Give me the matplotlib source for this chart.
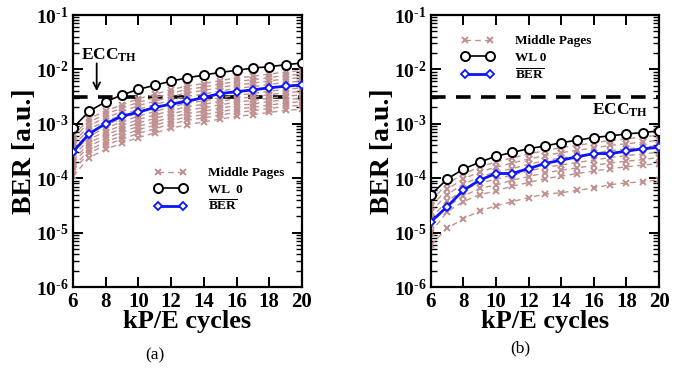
import matplotlib
matplotlib.use("Agg")
import matplotlib.pyplot as plt
from matplotlib.ticker import FixedLocator, LogLocator, FuncFormatter, NullFormatter
import numpy as np

plt.rcParams['font.family'] = ['Liberation Serif', 'DejaVu Serif']
plt.rcParams['mathtext.fontset'] = 'custom'
plt.rcParams['mathtext.rm'] = 'Liberation Serif'
plt.rcParams['mathtext.bf'] = 'Liberation Serif:bold'
plt.rcParams['mathtext.it'] = 'Liberation Serif:italic'
plt.rcParams['lines.scale_dashes'] = False

# ---------------- data ----------------
cycles = [6, 7, 8, 9, 10, 11, 12, 13, 14, 15, 16, 17, 18, 19, 20]
ecc_th = 3.1e-3

# panel (a)
wl0_a = [8.4e-4, 1.71e-3, 2.54e-3, 3.4e-3, 4.3e-3, 5.1e-3, 6.1e-3, 7.0e-3, 7.9e-3,
         8.8e-3, 9.6e-3, 1.06e-2, 1.12e-2, 1.22e-2, 1.31e-2]
ber_a = [3.05e-4, 6.6e-4, 1.01e-3, 1.38e-3, 1.64e-3, 2.0e-3, 2.3e-3, 2.6e-3, 3.05e-3,
         3.6e-3, 3.9e-3, 4.2e-3, 4.6e-3, 4.9e-3, 5.2e-3]
# middle pages (a), units of 1e-4
mid_a = [
    [1.1, 2.4, 3.4, 4.4, 5.6, 6.8, 8.3, 9.7, 10.8, 12.2, 13.7, 14.7, 16.2, 17.6, 18.6],
    [1.4, 2.9, 4.1, 5.2, 6.7, 8.1, 9.9, 11.6, 12.8, 14.5, 16.2, 17.4, 19.1, 20.9, 22],
    [1.6, 3.3, 4.7, 6.0, 7.8, 9.4, 11.4, 13.4, 14.7, 16.7, 18.8, 20.1, 22.1, 24.1, 25.5],
    [1.9, 3.9, 5.4, 7.0, 9.0, 10.8, 13.2, 15.5, 17.0, 19.4, 21.7, 23.2, 25.6, 27.9, 29.4],
    [2.1, 4.5, 6.3, 8.1, 10.4, 12.5, 15.2, 17.9, 19.7, 22.4, 25.1, 26.9, 29.6, 32.2, 34.0],
    [2.5, 5.2, 7.2, 9.3, 12.0, 14.5, 17.6, 20.7, 22.8, 25.9, 29.0, 31.1, 34.2, 37.3, 39.4],
    [2.9, 6.0, 8.4, 10.8, 13.9, 16.8, 20.4, 24.0, 26.4, 30.0, 33.6, 36.0, 39.6, 43.2, 45.6],
    [3.3, 7.0, 9.7, 12.5, 16.1, 19.5, 23.6, 27.8, 30.6, 34.8, 38.9, 41.7, 45.9, 50.0, 52.8],
    [3.9, 8.0, 11.2, 14.4, 18.6, 22.5, 27.3, 32.1, 35.3, 40.1, 44.9, 48.2, 53.0, 57.8, 61.0],
    [4.5, 9.3, 13.0, 16.7, 21.6, 26.0, 31.6, 37.2, 40.9, 46.5, 52.1, 55.8, 61.4, 67.0, 70.7],
    [5.2, 10.8, 15.1, 19.4, 24.9, 30.1, 36.6, 43.0, 47.3, 53.8, 60.2, 64.5, 71.0, 77.4, 81.7],
    [6.0, 12.5, 17.4, 22.4, 28.9, 34.9, 42.3, 49.8, 54.8, 62.3, 69.7, 74.7, 82.2, 89.6, 94.6],
]

# panel (b)
wl0_b = [4.9e-5, 9.6e-5, 1.47e-4, 1.97e-4, 2.54e-4, 2.97e-4, 3.5e-4, 3.9e-4, 4.5e-4,
         5.0e-4, 5.6e-4, 6.0e-4, 6.5e-4, 6.9e-4, 7.4e-4]
ber_b = [1.58e-5, 2.97e-5, 6.0e-5, 9.2e-5, 1.22e-4, 1.22e-4, 1.5e-4, 1.86e-4, 2.15e-4,
         2.47e-4, 2.84e-4, 2.84e-4, 3.14e-4, 3.47e-4, 3.7e-4]
# middle pages (b), units of 1e-4
mid_b = [
    [0.059, 0.119, 0.18, 0.25, 0.31, 0.37, 0.44, 0.51, 0.54, 0.60, 0.66, 0.76, 0.82, 0.86, 0.94],
    [0.10, 0.24, 0.37, 0.50, 0.58, 0.72, 0.83, 0.98, 1.09, 1.22, 1.35, 1.50, 1.62, 1.74, 1.86],
    [0.14, 0.30, 0.47, 0.65, 0.75, 0.92, 1.07, 1.25, 1.40, 1.55, 1.72, 1.90, 2.05, 2.20, 2.40],
    [0.18, 0.38, 0.60, 0.82, 0.95, 1.15, 1.35, 1.58, 1.75, 1.95, 2.15, 2.40, 2.60, 2.80, 3.0],
    [0.24, 0.50, 0.78, 1.05, 1.30, 1.50, 1.80, 2.10, 2.35, 2.60, 2.90, 3.20, 3.45, 3.70, 4.0],
    [0.30, 0.62, 0.97, 1.30, 1.60, 1.90, 2.25, 2.60, 2.95, 3.25, 3.60, 4.0, 4.3, 4.6, 5.0],
    [0.38, 0.78, 1.20, 1.60, 2.00, 2.35, 2.80, 3.20, 3.65, 4.00, 4.50, 4.90, 5.30, 5.70, 6.2],
]

x_ticks = [6, 8, 10, 12, 14, 16, 18, 20]

MID_COLOR = '#c09090'

fig = plt.figure(figsize=(6.91, 3.76), dpi=100)
axa = fig.add_axes([0.1056, 0.2367, 0.3314, 0.7234])
axb = fig.add_axes([0.6233, 0.2367, 0.3304, 0.7234])


def sci(v, pos):
    e = int(round(np.log10(v)))
    return r'$\mathbf{10^{%s}}$' % ('\u2010' + str(abs(e)) if e < 0 else str(e))


def draw(ax, mid, wl0, ber, wl_label):
    ax.axhline(ecc_th, color='black', lw=2.6, dashes=[10.5, 7.5], zorder=1)
    for i, m in enumerate(mid):
        ax.plot(cycles, [v * 1e-4 for v in m], color=MID_COLOR, lw=1.0,
                dashes=[4, 3], marker='x', ms=5, mew=1.4, zorder=2,
                label='Middle Pages' if i == 0 else None)
    ax.plot(cycles, wl0, color='black', lw=1.2, marker='o', ms=6.5,
            mfc='white', mec='black', mew=1.4, zorder=3, label=wl_label)
    ax.plot(cycles, ber, color='#0a14ff', lw=2.0, marker='D', ms=4.5,
            mfc='white', mec='#0a14ff', mew=1.3, zorder=4,
            label=r'$\overline{\mathbf{BER}}$')
    ax.set_yscale('log')
    ax.set_xlim(6, 20)
    ax.set_ylim(1e-6, 1e-1)
    ax.xaxis.set_major_locator(FixedLocator(x_ticks))
    ax.yaxis.set_major_locator(LogLocator(base=10, numticks=10))
    ax.yaxis.set_minor_locator(LogLocator(base=10, subs=np.arange(2, 10), numticks=10))
    ax.yaxis.set_major_formatter(FuncFormatter(sci))
    ax.yaxis.set_minor_formatter(NullFormatter())
    ax.tick_params(which='both', direction='in', top=True, right=True)
    ax.tick_params(which='major', length=7, width=1.4)
    ax.tick_params(axis='y', which='major', labelsize=14, pad=3)
    ax.tick_params(axis='x', which='major', labelsize=15, pad=3.5)
    ax.tick_params(which='minor', length=4, width=1.0)
    for lab in ax.get_xticklabels():
        lab.set_fontweight('bold')
    for s in ax.spines.values():
        s.set_linewidth(1.6)
    ax.set_xlabel('kP/E cycles', fontsize=19, fontweight='bold', labelpad=-1)
    ax.set_ylabel('BER [a.u.]', fontsize=20, fontweight='bold', labelpad=-1)


draw(axa, mid_a, wl0_a, ber_a, 'WL  0')
draw(axb, mid_b, wl0_b, ber_b, 'WL 0')

leg_kw = dict(frameon=False, handlelength=2.5, handletextpad=1.6, numpoints=2,
              labelspacing=0.3, borderaxespad=0, prop={'weight': 'bold', 'size': 9.5})
axa.legend(loc='upper left', bbox_to_anchor=(0.33, 0.46), **leg_kw)
axb.legend(loc='upper left', bbox_to_anchor=(0.11, 0.945), **leg_kw)

# ECC_TH annotations
axa.annotate('', xy=(7.45, 3.55e-3), xytext=(7.45, 1.45e-2),
             arrowprops=dict(arrowstyle='->', color='black', lw=1.3,
                             mutation_scale=12), zorder=5)
axa.text(8.2, 1.85e-2, r'$\mathbf{ECC_{TH}}$', ha='center', va='center', fontsize=12.5)
axb.text(17.6, 1.75e-3, r'$\mathbf{ECC_{TH}}$', ha='center', va='center', fontsize=12.5)

fig.text(0.224, 0.055, '(a)', ha='center', va='center', fontsize=12.5)
fig.text(0.753, 0.073, '(b)', ha='center', va='center', fontsize=12.5)

fig.savefig('out.png', dpi=100)
